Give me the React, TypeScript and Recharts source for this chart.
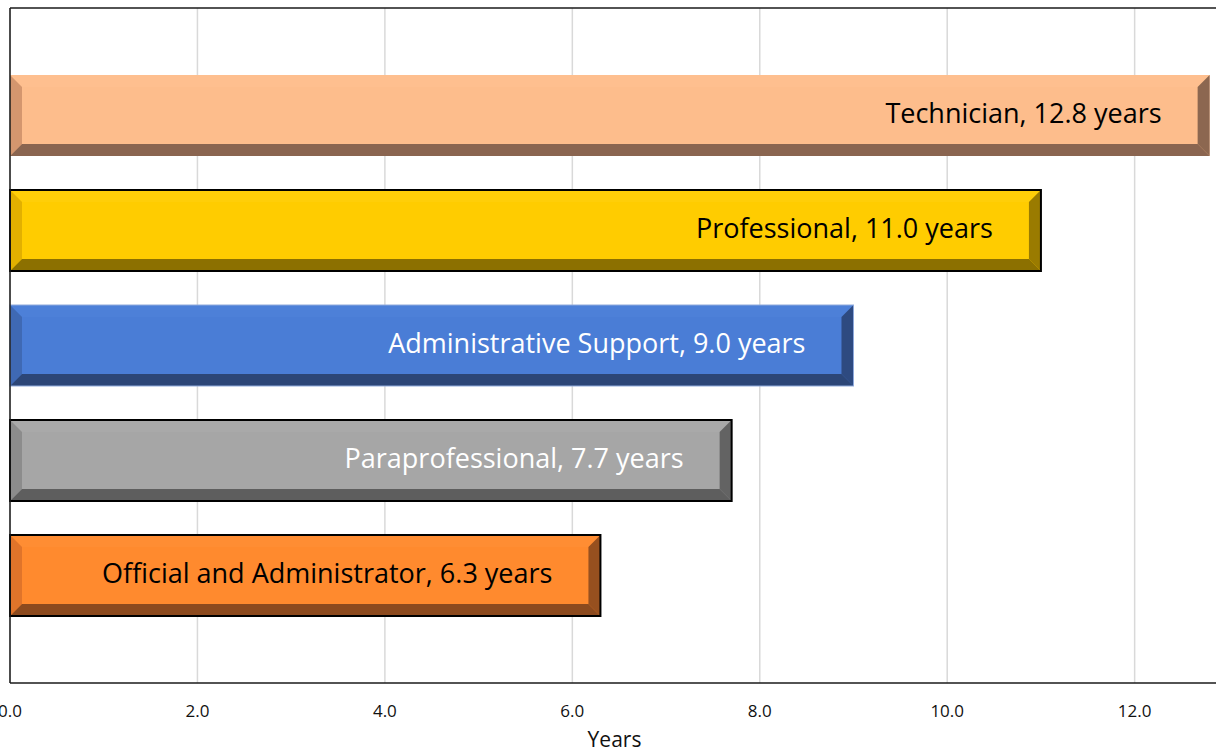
import { BarChart, Bar, XAxis, YAxis, CartesianGrid } from 'recharts';

const categories = ['Technician', 'Professional', 'Administrative Support', 'Paraprofessional', 'Official and Administrator'];
const years = [12.8, 11.0, 9.0, 7.7, 6.3];
const xTicks = [0, 2, 4, 6, 8, 10, 12];

// bevel palette per bar: face, top, left, right, bottom, outline, label colour
const palette = [
  { face: '#fdbd8c', top: '#febf8f', left: '#d4966e', right: '#8c6750', bottom: '#8a6550', stroke: 'none', text: '#000' },
  { face: '#ffcc00', top: '#ffce08', left: '#e2b000', right: '#9a7b00', bottom: '#8c7000', stroke: '#000', text: '#000' },
  { face: '#4a7dd6', top: '#4d80d8', left: '#3f69b4', right: '#2e4a80', bottom: '#2c4677', stroke: '#8faadc', text: '#fff' },
  { face: '#a6a6a6', top: '#a9a9a9', left: '#8c8c8c', right: '#636363', bottom: '#5e5e5e', stroke: '#000', text: '#fff' },
  { face: '#ff8a2e', top: '#ff8d33', left: '#e0742a', right: '#97501f', bottom: '#8c4a1e', stroke: '#000', text: '#000' },
];

const rows = categories.map((name, i) => ({ name, years: years[i] }));

const BEVEL = 12;
const AXIS = { stroke: '#1a1a1a', strokeWidth: 1.5 };

function BevelBar(props: any) {
  const { x, y, width: w, height: h, index, payload } = props;
  const c = palette[index];
  const b = Math.min(BEVEL, w / 2);
  const pts = (a: number[][]) => a.map(p => p.join(',')).join(' ');
  return (
    <g>
      <rect x={x} y={y} width={w} height={h} fill={c.face} />
      <polygon points={pts([[x, y], [x + w, y], [x + w - b, y + b], [x + b, y + b]])} fill={c.top} />
      <polygon points={pts([[x, y], [x + b, y + b], [x + b, y + h - b], [x, y + h]])} fill={c.left} />
      <polygon points={pts([[x + w, y], [x + w, y + h], [x + w - b, y + h - b], [x + w - b, y + b]])} fill={c.right} />
      <polygon points={pts([[x, y + h], [x + w, y + h], [x + w - b, y + h - b], [x + b, y + h - b]])} fill={c.bottom} />
      {c.stroke !== 'none' && (
        <rect x={x} y={y} width={w} height={h} fill="none" stroke={c.stroke} strokeWidth={c.stroke === '#000' ? 2 : 1} />
      )}
      <text
        x={x + w - 48}
        y={y + h / 2 - 3}
        textAnchor="end"
        dominantBaseline="central"
        fontSize={27}
        fill={c.text}
      >
        {`${payload.name}, ${payload.years.toFixed(1)} years`}
      </text>
    </g>
  );
}

export default function App() {
  return (
    <div
      style={{
        position: 'fixed',
        left: 0,
        top: 0,
        width: 1216,
        height: 753,
        overflow: 'hidden',
        background: '#fff',
        fontFamily: '"Open Sans", sans-serif',
      }}
    >
      <BarChart
        width={1220}
        height={753}
        data={rows}
        layout="vertical"
        margin={{ top: 7, right: 1, bottom: 0, left: 9 }}
        barSize={81}
      >
        <CartesianGrid horizontal={false} stroke="#d9d9d9" strokeWidth={1.5} />
        <XAxis
          type="number"
          domain={[0, 12.9]}
          ticks={xTicks}
          interval={0}
          tickFormatter={(v: number) => v.toFixed(1)}
          axisLine={AXIS}
          tickLine={false}
          tickSize={0}
          tickMargin={22}
          height={70}
          tick={{ fontSize: 17, fill: '#111' }}
          label={{ value: 'Years', position: 'insideBottom', offset: 6, fontSize: 21, fill: '#111' }}
        />
        <XAxis
          xAxisId="top"
          orientation="top"
          type="number"
          domain={[0, 12.9]}
          height={1}
          tick={false}
          tickLine={false}
          axisLine={AXIS}
        />
        <YAxis
          type="category"
          dataKey="name"
          width={1}
          tick={false}
          tickLine={false}
          axisLine={AXIS}
          padding={{ top: 50, bottom: 50 }}
        />
        <Bar dataKey="years" shape={BevelBar} isAnimationActive={false} />
      </BarChart>
    </div>
  );
}
